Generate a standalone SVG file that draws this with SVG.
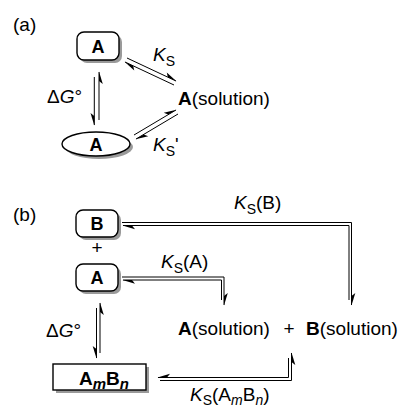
<svg xmlns="http://www.w3.org/2000/svg" width="401" height="408" viewBox="0 0 401 408">
<style>
.t{font-family:"Liberation Sans",Arial,Helvetica,sans-serif;font-size:19px;fill:#000}
.nb{font-family:"Liberation Sans",Arial,Helvetica,sans-serif;font-weight:bold;font-size:18px;text-anchor:middle;fill:#000}
.i{font-style:italic}
.s{font-size:14px}
.ln{fill:none;stroke:#000;stroke-width:1}
.box{fill:#fff;stroke:#000;stroke-width:1.4}
.sh{fill:#9a9a9a;stroke:none}
</style>
<defs>
<marker id="hp" markerUnits="userSpaceOnUse" markerWidth="1" markerHeight="1" refX="0" refY="0" orient="auto" overflow="visible"><polygon points="0.5,0 -12,3.8 -9,0" fill="#000"/></marker>
<marker id="hm" markerUnits="userSpaceOnUse" markerWidth="1" markerHeight="1" refX="0" refY="0" orient="auto" overflow="visible"><polygon points="0.5,0 -12,-3.8 -9,0" fill="#000"/></marker>
</defs>

<!-- labels (a) -->
<text class="t" x="13" y="31">(a)</text>
<text class="t" x="47" y="103">Δ<tspan class="i">G</tspan>°</text>
<text class="t" x="153" y="61"><tspan class="i">K</tspan><tspan class="s" dy="5">S</tspan></text>
<text class="t" x="153" y="151"><tspan class="i">K</tspan><tspan class="s" dy="5">S</tspan><tspan dy="-5">'</tspan></text>

<g id="a-box">
<rect class="sh" x="80" y="35" width="42" height="28" rx="7"/>
<rect class="box" x="77" y="32" width="42" height="28" rx="7"/>
<text class="nb" x="98" y="52.5">A</text>
</g>
<g id="a-ellipse">
<ellipse class="sh" cx="99" cy="147" rx="34" ry="12"/>
<ellipse class="box" cx="96" cy="144" rx="34" ry="12"/>
<text class="nb" x="96" y="150.5">A</text>
</g>
<g id="a-solution">
<text class="t" x="178" y="105"><tspan font-weight="bold">A</tspan>(solution)</text>
</g>

<!-- labels (b) -->
<text class="t" x="13" y="221">(b)</text>
<text class="t" x="46" y="337">Δ<tspan class="i">G</tspan>°</text>
<text class="t" x="161" y="268"><tspan class="i">K</tspan><tspan class="s" dy="5">S</tspan><tspan dy="-5">(A)</tspan></text>
<text class="t" x="234" y="209"><tspan class="i">K</tspan><tspan class="s" dy="5">S</tspan><tspan dy="-5">(B)</tspan></text>
<text class="t" x="190" y="401"><tspan class="i">K</tspan><tspan class="s" dy="4">S</tspan><tspan dy="-4">(A</tspan><tspan class="s i" dy="4">m</tspan><tspan dy="-4">B</tspan><tspan class="s i" dy="4">n</tspan><tspan dy="-4">)</tspan></text>
<text class="t" x="97" y="254" text-anchor="middle">+</text>

<g id="b-B">
<rect class="sh" x="79" y="213" width="42" height="27" rx="7"/>
<rect class="box" x="76" y="210" width="42" height="27" rx="7"/>
<text class="nb" x="97" y="230">B</text>
</g>
<g id="b-A">
<rect class="sh" x="79" y="267" width="42" height="27" rx="7"/>
<rect class="box" x="76" y="264" width="42" height="27" rx="7"/>
<text class="nb" x="97" y="284">A</text>
</g>
<g id="b-AmBn">
<rect class="sh" x="56" y="367" width="93" height="26"/>
<rect class="box" x="53" y="364" width="93" height="26"/>
<text class="t" x="79" y="384.5" font-weight="bold" font-size="20">A<tspan class="i" font-size="15" dy="4">m</tspan><tspan dy="-4">B</tspan><tspan class="i" font-size="15" dy="4">n</tspan></text>
</g>
<g id="b-solution">
<text class="t" x="178" y="335"><tspan font-weight="bold">A</tspan>(solution)</text>
<text class="t" x="289" y="335" text-anchor="middle">+</text>
<text class="t" x="306" y="335"><tspan font-weight="bold">B</tspan>(solution)</text>
</g>

<g id="connectors">
<!-- (a) -->
<path class="ln" d="M94.3,77 V125" marker-end="url(#hp)"/>
<path class="ln" d="M99,120 V72" marker-end="url(#hp)"/>
<path class="ln" d="M127,58 L176,81" marker-end="url(#hm)"/>
<path class="ln" d="M174,85 L125,62" marker-end="url(#hm)"/>
<path class="ln" d="M134,135 L176,110" marker-end="url(#hm)"/>
<path class="ln" d="M178,114 L136,139" marker-end="url(#hm)"/>
<!-- (b) -->
<path class="ln" d="M122,222.5 H351.5 V305" marker-end="url(#hm)"/>
<path class="ln" d="M349,300 V225.5 H123" marker-end="url(#hm)"/>
<path class="ln" d="M122,277 H224 V305" marker-end="url(#hm)"/>
<path class="ln" d="M221.5,300 V280 H123" marker-end="url(#hm)"/>
<path class="ln" d="M160,380.5 H291.5 V353" marker-end="url(#hp)"/>
<path class="ln" d="M288.5,358 V377.5 H158" marker-end="url(#hp)"/>
<path class="ln" d="M96.5,308 V358" marker-end="url(#hp)"/>
<path class="ln" d="M100,353 V303" marker-end="url(#hp)"/>
</g>
</svg>
